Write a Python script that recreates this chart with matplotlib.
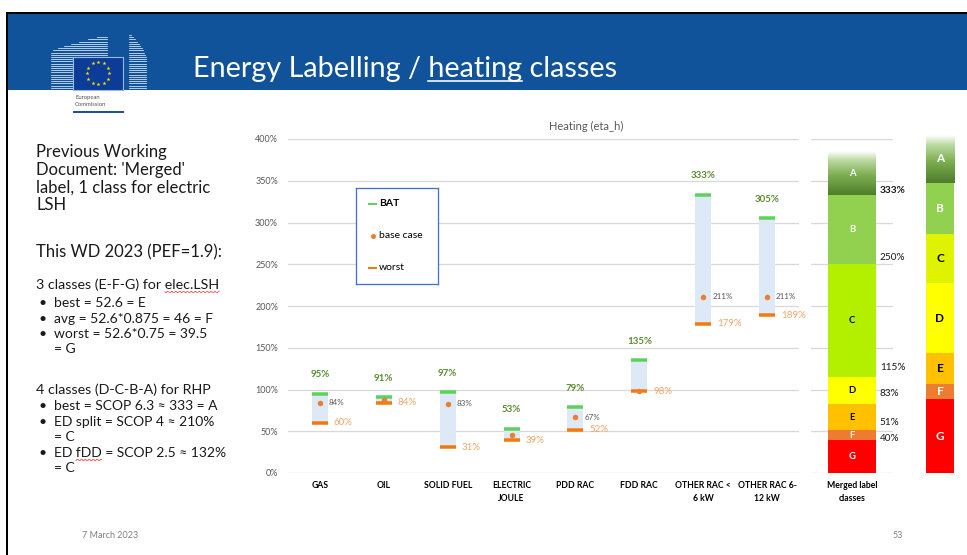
import numpy as np
import matplotlib
matplotlib.use("Agg")
import matplotlib.pyplot as plt
from matplotlib.patches import Rectangle
from matplotlib.colors import LinearSegmentedColormap

plt.rcParams["font.family"] = ["Lato", "DejaVu Sans"]

W, H = 967, 555
DPI = 100

# ── data ─────────────────────────────────────────────────────────────────────
categories = ["GAS", "OIL", "SOLID FUEL", "ELECTRIC\nJOULE", "PDD RAC", "FDD RAC",
              "OTHER RAC <\n6 kW", "OTHER RAC 6-\n12 kW"]
bat   = [95, 91, 97, 53, 79, 135, 333, 305]
base  = [84, 87, 83, 46, 67, 98, 211, 211]
worst = [60, 84, 31, 39, 52, 98, 179, 189]
show_base = [True, False, True, False, True, False, True, True]

merged_classes = ["G", "F", "E", "D", "C", "B", "A"]
merged_bounds  = [0, 40, 51, 83, 115, 250, 333, 385]
merged_labels  = ["40%", "51%", "83%", "115%", "250%", "333%"]

scale_classes = ["G", "F", "E", "D", "C", "B", "A"]
scale_heights = [74, 15, 31, 70, 49, 51, 48]

# ── colours ──────────────────────────────────────────────────────────────────
C_HEAD  = "#11539a"
C_BAT   = "#5dd25d"
C_WORST = "#f47a10"
C_BASE  = "#ed7d31"
C_BOX   = "#dde9f6"
C_BATL  = "#5b8c32"
C_WSTL  = "#f4a46a"
C_GRID  = "#d9d9d9"
C_GREY  = "#595959"

merged_colors = ["#ff0000", "#ee7b30", "#ffc000", "#ffff00", "#b2f000", "#92d050", None]
merged_txt    = ["white", "white", "black", "black", "black", "white", "white"]
scale_colors  = ["#ff0000", "#ed7d31", "#ffc000", "#ffff00", "#dff200", "#92d050", None]
scale_txt     = ["white", "white", "black", "black", "black", "white", "white"]
cmap_a = LinearSegmentedColormap.from_list(
    "clsA", [(0, "#4e7d2b"), (0.45, "#7dae50"), (0.8, "#bcdba4"), (1, "#ffffff")])
grad = np.linspace(0, 1, 200).reshape(-1, 1)


def pt(p):
    return p * 72 / DPI


fig = plt.figure(figsize=(W / DPI, H / DPI), dpi=DPI)


def px_axes(x0, y0, x1, y1):
    return fig.add_axes([x0 / W, 1 - y1 / H, (x1 - x0) / W, (y1 - y0) / H])


# ── slide background / header ────────────────────────────────────────────────
bg = fig.add_axes([0, 0, 1, 1])
bg.set_xlim(0, W)
bg.set_ylim(H, 0)
bg.axis("off")
bg.add_patch(Rectangle((7, 14), W - 7, 76, color=C_HEAD, lw=0, zorder=0))
bg.plot([7, W], [13, 13], color="black", lw=pt(2))
bg.plot([7, 7], [13, H], color="black", lw=pt(2))

# EC logo (rough)
for yy in np.arange(35, 90, 2.2):
    xl = 51 if yy >= 52 else 51 + 56 * ((52 - yy) / 17) ** 1.4
    bg.plot([xl, 107], [yy, yy], color="#e4ecf7", lw=0.55, zorder=1)
    xr = 146 if yy >= 56 else 129 + 17 * ((yy - 34) / 22) ** 0.7
    bg.plot([129, xr], [yy, yy], color="#e4ecf7", lw=0.55, zorder=1)
bg.add_patch(Rectangle((73, 57), 50, 33, facecolor="#0b3d98", edgecolor="#9fb6dc",
                       lw=0.8, zorder=3))
ang = np.linspace(0, 2 * np.pi, 13)[:-1]
bg.scatter(98 + 11 * np.cos(ang), 73 + 11 * np.sin(ang), marker="*", s=9,
           color="#ffdd00", lw=0, zorder=4)
bg.text(75, 97, "European", fontsize=4.2, color="#555555", va="center")
bg.text(75, 105, "Commission", fontsize=4.2, color="#555555", va="center")
bg.plot([74, 123], [112, 112], color="#1f4e9a", lw=pt(2))

# title with underlined word
renderer = fig.canvas.get_renderer()
title = "Energy Labelling / heating classes"
t = bg.text(193, 77, title, color="white", fontsize=20, va="baseline")
w0 = t.get_window_extent(renderer).width
fs = 20 * 424 / w0
t.set_fontsize(fs)
tmp = bg.text(193, 77, "Energy Labelling / heating", fontsize=fs, va="baseline")
end = tmp.get_window_extent(renderer).x1
tmp.remove()
tmp = bg.text(193, 77, "heating", fontsize=fs, va="baseline")
hw = tmp.get_window_extent(renderer).width
tmp.remove()
bg.plot([end - hw, end], [81, 81], color="white", lw=pt(1.6))

# left text block
TXT = "#1a1a1a"
for s, y in [("Previous Working", 152), ("Document: 'Merged'", 170),
             ("label, 1 class for electric", 188), ("LSH", 205),
             ("This WD 2023 (PEF=1.9):", 252)]:
    bg.text(36, y, s, fontsize=12, color=TXT, va="center")

SUB = 10
bg.text(36, 285, "3 classes (E-F-G) for elec.LSH", fontsize=10.3, color=TXT, va="center")
bg.text(36, 390, "4 classes (D-C-B-A) for RHP", fontsize=10.3, color=TXT, va="center")
bullets = [("best = 52.6 = E", 303, True), ("avg = 52.6*0.875 = 46 = F", 319, True),
           ("worst = 52.6*0.75 = 39.5", 334, True), ("= G", 349, False),
           ("best = SCOP 6.3 ≈ 333 = A", 406, True), ("ED split = SCOP 4 ≈ 210%", 422, True),
           ("= C", 437, False), ("ED fDD = SCOP 2.5 ≈ 132%", 453, True), ("= C", 468, False)]
for s, y, dot in bullets:
    if dot:
        bg.text(38, y, "•", fontsize=SUB, color=TXT, va="center")
    bg.text(54, y, s, fontsize=SUB, color=TXT, va="center")


def squiggle(x0, line, word, y, size):
    tt = bg.text(x0, y, line, fontsize=size, va="center")
    e = tt.get_window_extent(renderer).x1
    tt.remove()
    tt = bg.text(x0, y, word, fontsize=size, va="center")
    ww = tt.get_window_extent(renderer).width
    tt.remove()
    xs = np.linspace(e - ww, e, 40)
    bg.plot(xs, y + 7 + 0.8 * np.sin(xs * 1.6), color="#e03030", lw=0.5)


squiggle(36, "3 classes (E-F-G) for elec.LSH", "elec.LSH", 285, 10.3)
squiggle(54, "ED fDD", "fDD", 453, SUB)

# footer
bg.text(82, 535, "7 March 2023", fontsize=6.5, color="#808080", va="center")
bg.text(898, 535, "53", fontsize=6.5, color="#808080", va="center", ha="center")
bg.text(586, 126, "Heating (eta_h)", fontsize=8, color=C_GREY, ha="center", va="center")

# ── main chart ───────────────────────────────────────────────────────────────
ax = px_axes(288, 139, 799, 473)
x = np.arange(len(categories))
ax.set_xlim(-0.5, len(categories) - 0.5)
ax.set_ylim(0, 400)
ax.patch.set_alpha(0)
ticks = np.arange(0, 401, 50)
ax.set_yticks(ticks, [f"{v}%" for v in ticks], fontsize=6.5, color=C_GREY)
ax.set_xticks(x, categories, fontsize=6.2, fontweight="bold", linespacing=1.55)
ax.tick_params(axis="y", length=0, pad=pt(10))
ax.tick_params(axis="x", length=0, pad=pt(8))
ax.yaxis.grid(True, color=C_GRID, lw=pt(1.3))
ax.set_axisbelow(True)
for s in ax.spines.values():
    s.set_visible(False)

ax.bar(x, np.array(bat) - np.array(worst), bottom=worst, width=0.25, color=C_BOX, zorder=2)
ax.plot(x, bat, ls="none", marker="_", ms=pt(16), mew=pt(3.5), color=C_BAT, zorder=3)
ax.plot(x, worst, ls="none", marker="_", ms=pt(16), mew=pt(3.5), color=C_WORST, zorder=3)
ax.plot(x, base, ls="none", marker="o", ms=pt(5.5), mec="none", color=C_BASE, zorder=4)

for i in range(len(categories)):
    ax.annotate(f"{bat[i]}%", (x[i], bat[i]), xytext=(0, pt(19)), textcoords="offset points",
                ha="center", va="center", fontsize=7, fontweight="bold", color=C_BATL)
    ax.annotate(f"{worst[i]}%", (x[i], worst[i]), xytext=(pt(14), 0), textcoords="offset points",
                ha="left", va="center", fontsize=7, color=C_WSTL)
    if show_base[i]:
        ax.annotate(f"{base[i]}%", (x[i], base[i]), xytext=(pt(9), 0), textcoords="offset points",
                    ha="left", va="center", fontsize=5.8, color=C_GREY)

# legend box
lg = px_axes(356, 188, 438, 284)
lg.set_xlim(356, 438)
lg.set_ylim(284, 188)
lg.set_xticks([])
lg.set_yticks([])
for s in lg.spines.values():
    s.set_color("#4472c4")
    s.set_linewidth(pt(1.3))
lg.plot([369, 376], [204, 204], color=C_BAT, lw=pt(2))
lg.plot([372.5], [236], marker="o", ms=pt(5), mec="none", color=C_BASE)
lg.plot([369, 376], [268, 268], color=C_WORST, lw=pt(2))
lg.text(379, 204, "BAT", fontsize=7.5, fontweight="bold", va="center")
lg.text(379, 236, "base case", fontsize=7.5, va="center")
lg.text(379, 268, "worst", fontsize=7.5, va="center")

# ── merged label classes ─────────────────────────────────────────────────────
mx = px_axes(811, 139, 893, 473)
mx.patch.set_alpha(0)
bw = 48 / 82
for k, cls in enumerate(merged_classes):
    lo, hi = merged_bounds[k], merged_bounds[k + 1]
    if merged_colors[k] is None:
        mx.imshow(grad, cmap=cmap_a, origin="lower", aspect="auto",
                  extent=[0.5 - bw / 2, 0.5 + bw / 2, lo, hi], zorder=2)
    else:
        mx.bar(0.5, hi - lo, bottom=lo, width=bw, color=merged_colors[k], zorder=2)
    mx.text(0.5, (lo + hi) / 2, cls, ha="center", va="center", fontsize=6.8,
            fontweight="bold", color=merged_txt[k], zorder=3)
label_dy = [1, 8, 10, 9, 7, 4]
for k, lbl in enumerate(merged_labels):
    mx.annotate(lbl, (0.84, merged_bounds[k + 1]), xytext=(0, pt(label_dy[k])),
                textcoords="offset points", ha="left", va="center", fontsize=7.2,
                fontweight="bold" if lbl == "333%" else "normal", color="#1a1a1a")
mx.set_xlim(0, 1)
mx.set_ylim(0, 400)
mx.set_yticks(ticks, [])
mx.set_xticks([0.5], ["Merged label\nclasses"], fontsize=6.2, fontweight="bold", linespacing=1.55)
mx.tick_params(length=0, pad=pt(8))
mx.yaxis.grid(True, color=C_GRID, lw=pt(1.3))
mx.set_axisbelow(True)
for s in mx.spines.values():
    s.set_visible(False)

# ── generic A-G scale ────────────────────────────────────────────────────────
sx = px_axes(926, 135, 954, 473)
sx.axis("off")
bottom = 0
for k, cls in enumerate(scale_classes):
    h = scale_heights[k]
    if scale_colors[k] is None:
        sx.imshow(grad, cmap=cmap_a, origin="lower", aspect="auto",
                  extent=[0, 1, bottom, bottom + h], zorder=2)
    else:
        sx.bar(0.5, h, bottom=bottom, width=1, color=scale_colors[k], zorder=2)
    sx.text(0.5, bottom + h / 2, cls, ha="center", va="center", fontsize=8.5,
            fontweight="bold", color=scale_txt[k], zorder=3)
    bottom += h
sx.set_xlim(0, 1)
sx.set_ylim(0, sum(scale_heights))

fig.savefig("out.png", dpi=DPI)
